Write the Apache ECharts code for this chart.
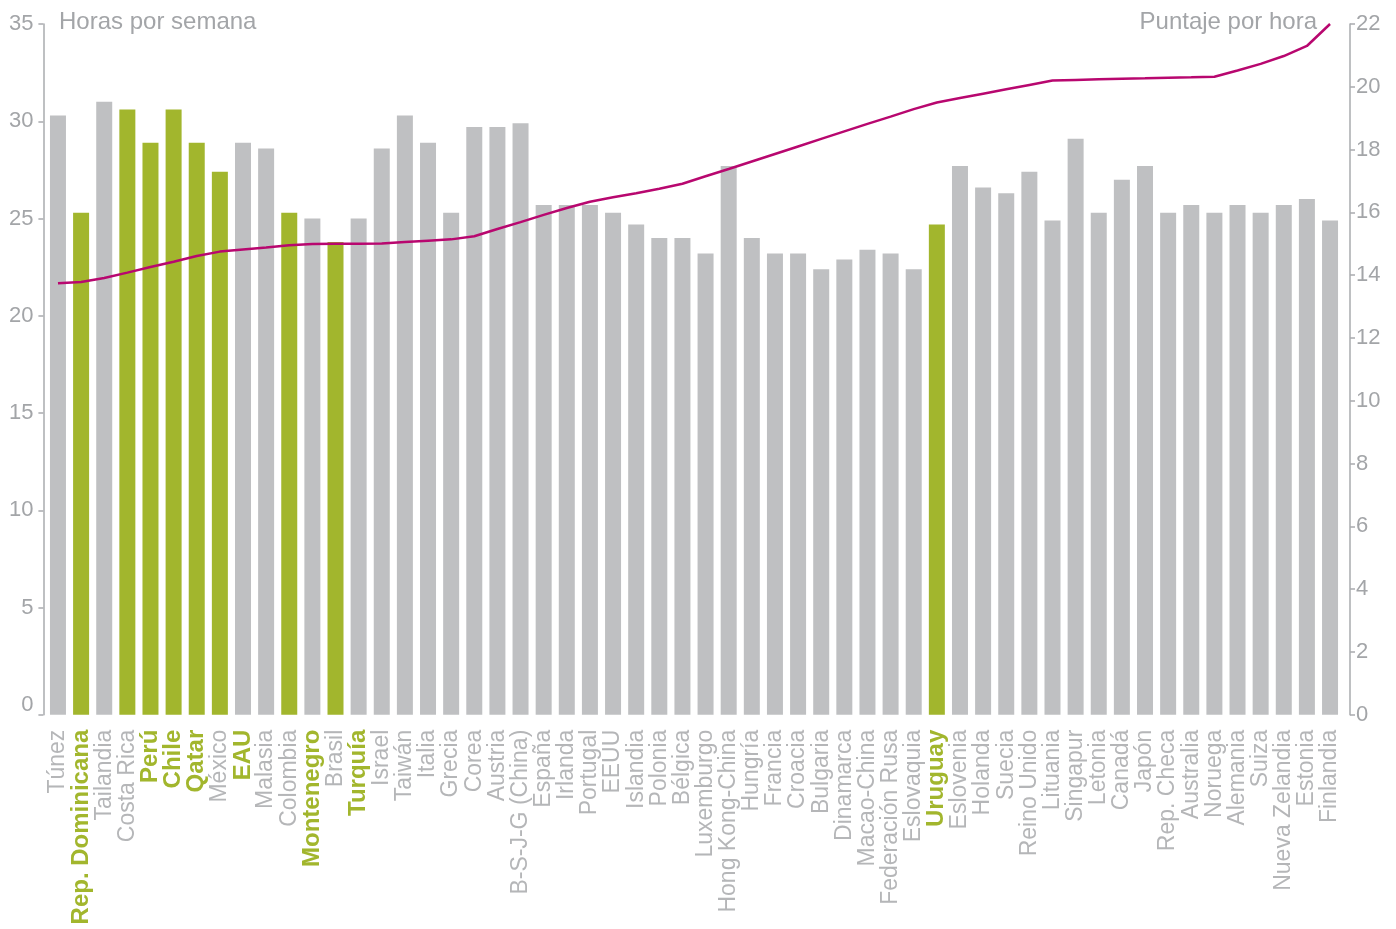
<!DOCTYPE html>
<html>
<head>
<meta charset="utf-8">
<title>Horas por semana / Puntaje por hora</title>
<script src="https://cdn.jsdelivr.net/npm/echarts@6/dist/echarts.min.js"></script>
<style>
  html, body { margin: 0; padding: 0; background: #fff; }
  #chart { width: 1396px; height: 929px; }
</style>
</head>
<body>
<div id="chart"></div>
<script>
// países (eje x)
const paises = [
  "Túnez", "Rep. Dominicana", "Tailandia", "Costa Rica", "Perú", "Chile", "Qatar", "México", "EAU", "Malasia",
  "Colombia", "Montenegro", "Brasil", "Turquía", "Israel", "Taiwán", "Italia", "Grecia", "Corea", "Austria",
  "B-S-J-G (China)", "España", "Irlanda", "Portugal", "EEUU", "Islandia", "Polonia", "Bélgica", "Luxemburgo", "Hong Kong-China",
  "Hungría", "Francia", "Croacia", "Bulgaria", "Dinamarca", "Macao-China", "Federación Rusa", "Eslovaquia", "Uruguay", "Eslovenia",
  "Holanda", "Suecia", "Reino Unido", "Lituania", "Singapur", "Letonia", "Canadá", "Japón", "Rep. Checa", "Australia",
  "Noruega", "Alemania", "Suiza", "Nueva Zelandia", "Estonia", "Finlandia"
];
// horas por semana (barras, eje izquierdo)
const horas = [
  30.3, 25.3, 31.0, 30.6, 28.9, 30.6, 28.9, 27.4, 28.9, 28.6,
  25.3, 25.0, 23.8, 25.0, 28.6, 30.3, 28.9, 25.3, 29.7, 29.7,
  29.9, 25.7, 25.7, 25.7, 25.3, 24.7, 24.0, 24.0, 23.2, 27.7,
  24.0, 23.2, 23.2, 22.4, 22.9, 23.4, 23.2, 22.4, 24.7, 27.7,
  26.6, 26.3, 27.4, 24.9, 29.1, 25.3, 27.0, 27.7, 25.3, 25.7,
  25.3, 25.7, 25.3, 25.7, 26.0, 24.9
];
// puntaje por hora (línea, eje derecho)
const puntaje = [
  13.74, 13.78, 13.91, 14.08, 14.26, 14.43, 14.61, 14.75, 14.82, 14.88,
  14.95, 14.99, 15.0, 15.0, 15.01, 15.06, 15.10, 15.14, 15.24, 15.47,
  15.69, 15.92, 16.14, 16.34, 16.48, 16.61, 16.75, 16.91, 17.15, 17.38,
  17.62, 17.86, 18.10, 18.34, 18.58, 18.82, 19.05, 19.29, 19.50, 19.64,
  19.78, 19.92, 20.06, 20.20, 20.22, 20.24, 20.26, 20.27, 20.29, 20.30,
  20.32, 20.52, 20.73, 20.98, 21.30, 22.0
];
// barras verdes y etiquetas en negrita verde
const barrasVerdes = ["Rep. Dominicana", "Costa Rica", "Perú", "Chile", "Qatar", "México", "Colombia", "Brasil", "Uruguay"];
const etiquetasVerdes = ["Rep. Dominicana", "Perú", "Chile", "Qatar", "EAU", "Montenegro", "Turquía", "Uruguay"];
// marcas de los ejes
const ticksIzq = [0, 5, 10, 15, 20, 25, 30, 35];
const ticksIzqMarcas = [-0.5, 5, 10, 15, 20, 25, 30, 35];

const GRIS = "#bfc0c2";
const VERDE = "#a2b62d";
const MAGENTA = "#b8076f";
const TEXTO = "#a3a5a8";
const FONT = "'Liberation Sans', Arial, sans-serif";

const chart = echarts.init(document.getElementById("chart"));
chart.setOption({
  animation: false,
  grid: { left: 46.4, right: 54.4, top: 24, bottom: 214.3, containLabel: false },
  graphic: [
    { type: "text", x: 59, y: 22, style: { text: "Horas por semana", font: "24px " + FONT, fill: TEXTO, textVerticalAlign: "middle" } },
    { type: "text", x: 1317, y: 22, style: { text: "Puntaje por hora", font: "24px " + FONT, fill: TEXTO, textAlign: "right", textVerticalAlign: "middle" } }
  ],
  xAxis: {
    type: "category",
    data: paises,
    axisLine: { show: false },
    axisTick: { show: false },
    axisLabel: {
      interval: 0,
      rotate: 90,
      margin: 15,
      formatter: (v) => (etiquetasVerdes.includes(v) ? "{b|" + v + "}" : "{n|" + v + "}"),
      rich: {
        n: { fontFamily: FONT, fontSize: 23, color: "#b5b6b8" },
        b: { fontFamily: FONT, fontSize: 24, fontWeight: "bold", color: VERDE }
      }
    }
  },
  yAxis: [
    {
      type: "value",
      min: -0.5,
      max: 35,
      startValue: -0.5,
      offset: 3,
      splitLine: { show: false },
      axisLine: { show: true, lineStyle: { color: "#a9abae", width: 1.5 } },
      axisTick: { show: true, length: 5, customValues: ticksIzqMarcas, lineStyle: { color: "#a9abae", width: 1.5 } },
      axisLabel: { customValues: ticksIzq, margin: 10, fontFamily: FONT, fontSize: 22, color: TEXTO }
    },
    {
      type: "value",
      min: 0,
      max: 22,
      interval: 2,
      offset: 8.4,
      splitLine: { show: false },
      axisLine: { show: true, lineStyle: { color: "#a9abae", width: 1.5 } },
      axisTick: { show: true, length: 5, lineStyle: { color: "#a9abae", width: 1.5 } },
      axisLabel: { margin: 6, fontFamily: FONT, fontSize: 22, color: TEXTO }
    }
  ],
  series: [
    {
      name: "Horas por semana",
      type: "bar",
      yAxisIndex: 0,
      barWidth: 16,
      data: horas,
      itemStyle: { color: (p) => (barrasVerdes.includes(paises[p.dataIndex]) ? VERDE : GRIS) }
    },
    {
      name: "Puntaje por hora",
      type: "line",
      yAxisIndex: 1,
      data: puntaje,
      symbol: "none",
      lineStyle: { color: MAGENTA, width: 2.5 },
      z: 5
    }
  ]
});
</script>
</body>
</html>
